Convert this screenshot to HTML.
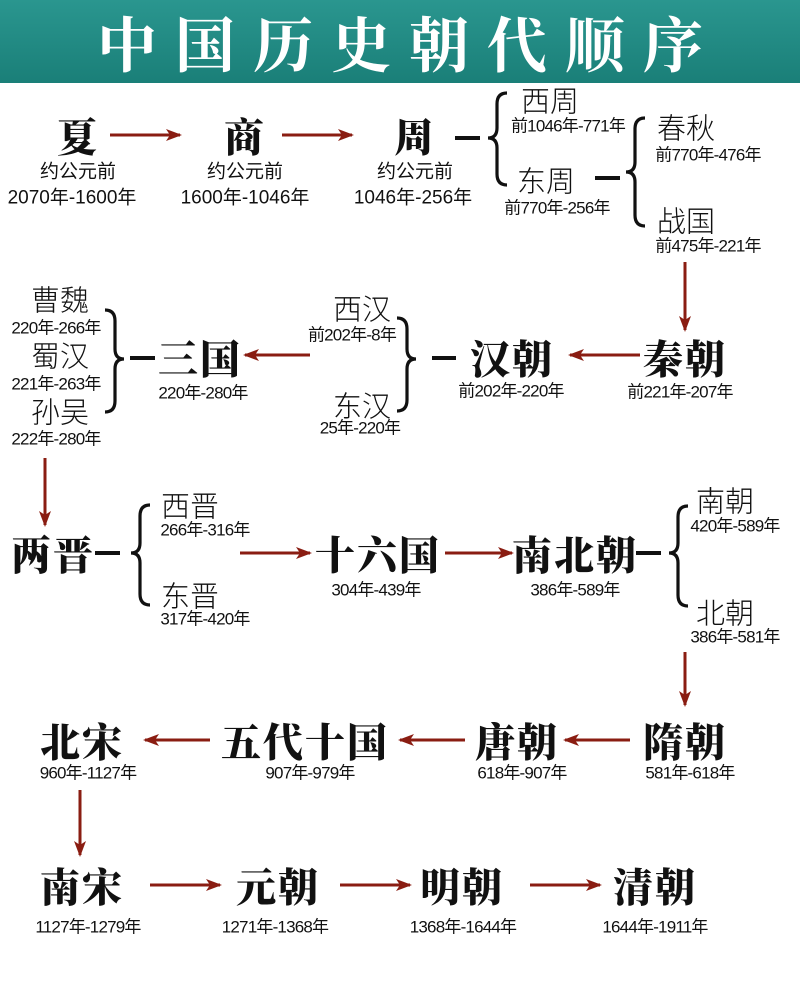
<!DOCTYPE html>
<html><head><meta charset="utf-8"><style>
body{margin:0;width:800px;height:986px;background:#fff;position:relative;overflow:hidden;font-family:"Liberation Sans","Noto Sans CJK SC",sans-serif;color:#111}
.hd{position:absolute;left:0;top:0;width:800px;height:83px;background:linear-gradient(#2a968f,#1a7f78);}
.hd div{position:absolute;left:0;width:800px;top:8px;text-align:center;color:#fff;font:bold 60px "Noto Serif CJK SC","Noto Sans CJK SC",serif;letter-spacing:18px;text-indent:18px;line-height:68px}
.t{position:absolute;transform:translate(-50%,-50%);white-space:nowrap;line-height:1}
.b{font:900 40px "Noto Serif CJK SC",serif;letter-spacing:2px}
.m{font-size:29px;font-family:"Noto Sans CJK SC",sans-serif;font-weight:300}
.d{font-size:17px;letter-spacing:-0.8px;font-family:"Liberation Sans Narrow","Liberation Sans","Noto Sans CJK SC",sans-serif}
.e{font-size:19px;font-family:"Liberation Sans Narrow","Liberation Sans","Noto Sans CJK SC",sans-serif}
svg{position:absolute;left:0;top:0}
</style></head><body>
<div class="hd"><div>中国历史朝代顺序</div></div>
<svg width="800" height="986">
<defs><marker id="h" markerWidth="16" markerHeight="12" refX="14" refY="6" orient="auto" markerUnits="userSpaceOnUse"><path d="M0,0 L16,6 L0,12 L4,6 Z" fill="#8a1d12"/></marker></defs>
<g stroke="#8a1d12" stroke-width="3" fill="none" marker-end="url(#h)">
<path d="M110 135H180"/><path d="M282 135H352"/>
<path d="M685 262V330"/>
<path d="M640 355H570"/><path d="M310 355H245"/>
<path d="M45 458V525"/>
<path d="M240 553H310"/><path d="M445 553H512"/>
<path d="M685 652V705"/>
<path d="M630 740H565"/><path d="M465 740H400"/><path d="M210 740H145"/>
<path d="M80 790V855"/>
<path d="M150 885H220"/><path d="M340 885H410"/><path d="M530 885H600"/>
</g>
<g stroke="#111" stroke-width="4" fill="none">
<path d="M455 138H480"/><path d="M595 178H620"/>
<path d="M432 358H456"/><path d="M130 358H155"/>
<path d="M95 553H120"/><path d="M636 553H661"/>
</g>
<g stroke="#111" stroke-width="3.2" fill="none">
<path d="M507 93Q497 93 497 104L497 128Q497 138 488 138Q497 138 497 148L497 174Q497 185 507 185"/>
<path d="M645 118Q635 118 635 129L635 162Q635 172 626 172Q635 172 635 182L635 215Q635 226 645 226"/>
<path d="M397 318Q407 318 407 329L407 349Q407 359 416 359Q407 359 407 369L407 400Q407 411 397 411"/>
<path d="M105 310Q115 310 115 321L115 349Q115 359 124 359Q115 359 115 369L115 401Q115 412 105 412"/>
<path d="M150 505Q140 505 140 516L140 543Q140 553 131 553Q140 553 140 563L140 594Q140 605 150 605"/>
<path d="M688 506Q678 506 678 517L678 543Q678 553 669 553Q678 553 678 563L678 595Q678 606 688 606"/>
</g>
</svg>
<div class="t b" style="left:78px;top:135px">夏</div>
<div class="t e" style="left:78px;top:172px">约公元前</div>
<div class="t e" style="left:72px;top:198px">2070年-1600年</div>
<div class="t b" style="left:245px;top:135px">商</div>
<div class="t e" style="left:245px;top:172px">约公元前</div>
<div class="t e" style="left:245px;top:198px">1600年-1046年</div>
<div class="t b" style="left:415px;top:135px">周</div>
<div class="t e" style="left:415px;top:172px">约公元前</div>
<div class="t e" style="left:413px;top:198px">1046年-256年</div>
<div class="t m" style="left:550px;top:100px">西周</div>
<div class="t d" style="left:568px;top:126px">前1046年-771年</div>
<div class="t m" style="left:546px;top:180px">东周</div>
<div class="t d" style="left:557px;top:208px">前770年-256年</div>
<div class="t m" style="left:686px;top:127px">春秋</div>
<div class="t d" style="left:708px;top:155px">前770年-476年</div>
<div class="t m" style="left:686px;top:220px">战国</div>
<div class="t d" style="left:708px;top:246px">前475年-221年</div>

<div class="t b" style="left:685px;top:357px">秦朝</div>
<div class="t d" style="left:680px;top:392px">前221年-207年</div>
<div class="t b" style="left:512px;top:357px">汉朝</div>
<div class="t d" style="left:511px;top:391px">前202年-220年</div>
<div class="t m" style="left:362px;top:308px">西汉</div>
<div class="t d" style="left:352px;top:335px">前202年-8年</div>
<div class="t m" style="left:362px;top:405px">东汉</div>
<div class="t d" style="left:360px;top:428px">25年-220年</div>
<div class="t b" style="left:200px;top:357px">三国</div>
<div class="t d" style="left:203px;top:393px">220年-280年</div>
<div class="t m" style="left:60px;top:299px">曹魏</div>
<div class="t d" style="left:56px;top:328px">220年-266年</div>
<div class="t m" style="left:60px;top:355px">蜀汉</div>
<div class="t d" style="left:56px;top:384px">221年-263年</div>
<div class="t m" style="left:60px;top:411px">孙吴</div>
<div class="t d" style="left:56px;top:439px">222年-280年</div>

<div class="t b" style="left:53px;top:553px">两晋</div>
<div class="t m" style="left:190px;top:505px">西晋</div>
<div class="t d" style="left:205px;top:530px">266年-316年</div>
<div class="t m" style="left:190px;top:595px">东晋</div>
<div class="t d" style="left:205px;top:619px">317年-420年</div>
<div class="t b" style="left:378px;top:553px">十六国</div>
<div class="t d" style="left:376px;top:590px">304年-439年</div>
<div class="t b" style="left:575px;top:553px">南北朝</div>
<div class="t d" style="left:575px;top:590px">386年-589年</div>
<div class="t m" style="left:725px;top:500px">南朝</div>
<div class="t d" style="left:735px;top:526px">420年-589年</div>
<div class="t m" style="left:725px;top:612px">北朝</div>
<div class="t d" style="left:735px;top:637px">386年-581年</div>

<div class="t b" style="left:685px;top:740px">隋朝</div>
<div class="t d" style="left:690px;top:773px">581年-618年</div>
<div class="t b" style="left:517px;top:740px">唐朝</div>
<div class="t d" style="left:522px;top:773px">618年-907年</div>
<div class="t b" style="left:305px;top:740px">五代十国</div>
<div class="t d" style="left:310px;top:773px">907年-979年</div>
<div class="t b" style="left:82px;top:740px">北宋</div>
<div class="t d" style="left:88px;top:773px">960年-1127年</div>

<div class="t b" style="left:82px;top:885px">南宋</div>
<div class="t d" style="left:88px;top:927px">1127年-1279年</div>
<div class="t b" style="left:278px;top:885px">元朝</div>
<div class="t d" style="left:275px;top:927px">1271年-1368年</div>
<div class="t b" style="left:462px;top:885px">明朝</div>
<div class="t d" style="left:463px;top:927px">1368年-1644年</div>
<div class="t b" style="left:655px;top:885px">清朝</div>
<div class="t d" style="left:655px;top:927px">1644年-1911年</div>
</body></html>
